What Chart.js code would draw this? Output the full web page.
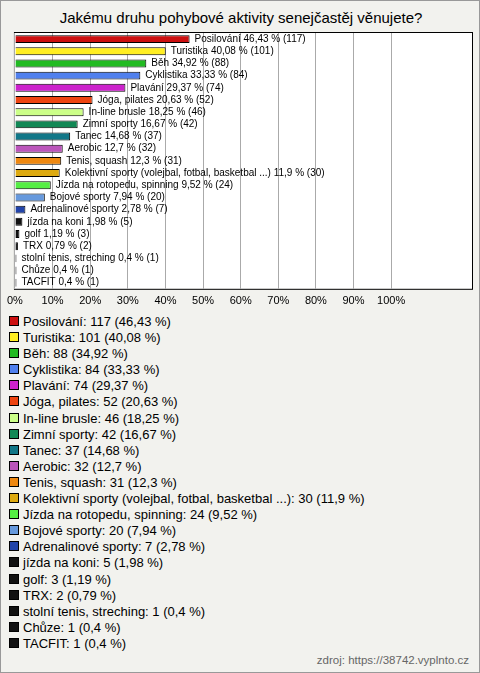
<!DOCTYPE html><html><head><meta charset="utf-8">
<script src="https://cdn.jsdelivr.net/npm/chart.js@4"></script>
<style>
body{margin:0;background:#fff;font-family:Arial,"Liberation Sans",sans-serif;}
#wrap{position:absolute;left:0;top:0;width:478px;height:671px;border:1px solid #999;background:#f2f2ee;}
#title{position:absolute;left:0;top:8px;width:480px;text-align:center;font-size:15px;color:#000;}
#cv{position:absolute;left:0;top:28px;width:480px;height:285px;}
#leg{position:absolute;left:8px;top:313px;font-size:13px;}
.it{height:16.1px;line-height:16.1px;white-space:nowrap;}
.sq{display:inline-block;width:8px;height:8px;border:1px solid #000;margin-right:4px;vertical-align:0px;}
#src{position:absolute;right:10px;top:653px;font-size:11.5px;color:#666;}
</style></head><body><div id="wrap">
<div id="title">Jakému druhu pohybové aktivity senejčastěj věnujete?</div>
<div id="cv"><canvas id="c"></canvas></div>
<div id="leg"></div>
<div id="src">zdroj: https://38742.vyplnto.cz</div>
</div>
<script>
const categories=["Posilování","Turistika","Běh","Cyklistika","Plavání","Jóga, pilates","In-line brusle","Zimní sporty","Tanec","Aerobic","Tenis, squash","Kolektivní sporty (volejbal, fotbal, basketbal ...)","Jízda na rotopedu, spinning","Bojové sporty","Adrenalinové sporty","jízda na koni","golf","TRX","stolní tenis, streching","Chůze","TACFIT"];
const counts=[117,101,88,84,74,52,46,42,37,32,31,30,24,20,7,5,3,2,1,1,1];
const percents=[46.43,40.08,34.92,33.33,29.37,20.63,18.25,16.67,14.68,12.7,12.3,11.9,9.52,7.94,2.78,1.98,1.19,0.79,0.4,0.4,0.4];
const colors=["#cc1010","#ffee22","#22bb22","#5080ee","#cc22cc","#ee4411","#ccff88","#118855","#117788","#bb55bb","#ee8811","#ddaa11","#55ee44","#6699dd","#2244aa","#111111","#111111","#111111","#111111","#111111","#111111"];
const xTicks=[0,10,20,30,40,50,60,70,80,90,100];
const fmt=v=>String(v).replace('.',',');
const leg=document.getElementById('leg');
categories.forEach((c,i)=>{const d=document.createElement('div');d.className='it';d.innerHTML='<span class="sq" style="background:'+colors[i]+'"></span>';d.appendChild(document.createTextNode(c+': '+counts[i]+' ('+fmt(percents[i])+' %)'));leg.appendChild(d);});
const labelPlugin={id:'lbl',afterDatasetsDraw(ch){const ctx=ch.ctx;const m=ch.getDatasetMeta(0);ctx.save();ctx.font='10px Arial';ctx.fillStyle='#000';ctx.textBaseline='middle';m.data.forEach((b,i)=>{ctx.fillText(categories[i]+' '+fmt(percents[i])+' % ('+counts[i]+')',b.x+5,b.y);});ctx.restore();}};
const bgPlugin={id:'bg',beforeDraw(ch){const a=ch.chartArea,ctx=ch.ctx;ctx.save();ctx.fillStyle='#fff';ctx.fillRect(a.left,a.top,a.right-a.left,a.bottom-a.top);ctx.strokeStyle='#000';ctx.lineWidth=1;ctx.strokeRect(a.left-0.5,a.top-0.5,a.right-a.left+1,a.bottom-a.top+1);ctx.restore();}};
new Chart(document.getElementById('c'),{type:'bar',data:{labels:categories,datasets:[{data:percents,backgroundColor:colors,borderColor:'#000',borderWidth:1,barPercentage:0.65,categoryPercentage:1}]},
options:{indexAxis:'y',responsive:true,maintainAspectRatio:false,animation:false,layout:{padding:{left:10,right:9,top:4,bottom:0}},
plugins:{legend:{display:false},tooltip:{enabled:false}},
scales:{x:{min:0,max:121.5,afterBuildTicks(s){s.ticks=xTicks.map(v=>({value:v}));},grid:{color:'#aaa',drawTicks:false},border:{display:false},ticks:{color:'#000',font:{size:11,family:'Arial'},padding:6,callback:v=>v+'%'}},
y:{display:false}}},plugins:[bgPlugin,labelPlugin]});
</script></body></html>
